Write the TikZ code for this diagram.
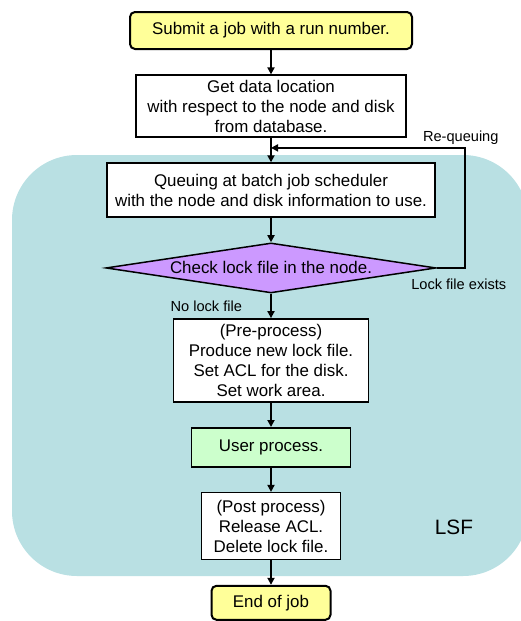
\documentclass[tikz,border=0pt]{standalone}
\usepackage{fontspec}
\setmainfont{Liberation Sans}
\usetikzlibrary{arrows.meta, positioning, shapes.geometric, backgrounds}

\definecolor{jobyellow}{RGB}{255,255,153}
\definecolor{checkpurple}{RGB}{204,153,255}
\definecolor{usergreen}{RGB}{204,255,204}
\definecolor{lsfteal}{RGB}{185,224,227}

\begin{document}
\begin{tikzpicture}[
    font=\fontsize{8.45}{10}\selectfont,
    node distance=12.2pt,
    stepbox/.style={draw, line width=0.75pt, fill=white, align=center, inner xsep=2pt, inner ysep=1.5pt},
    terminal/.style={stepbox, fill=jobyellow, line width=1pt, rounded corners=2.5pt},
    decision/.style={diamond, draw, line width=0.75pt, fill=checkpurple, inner sep=0pt, aspect=6.6},
    lbl/.style={font=\fontsize{7.3}{9}\selectfont, inner sep=1pt},
    arrow/.style={-{Triangle[length=3.5pt, width=3.5pt]}, line width=1pt}
]
  \useasboundingbox (0,0) rectangle (260pt,-310.5pt);

  % LSF area behind the job steps
  \fill[lsfteal, rounded corners=32.5pt] (6pt,-77.5pt) rectangle (264pt,-288pt);

  \node[terminal, minimum width=141pt, minimum height=18.5pt] (submit) at (135.5pt,-15.25pt) {Submit a job with a run number.};
  \node[stepbox, minimum width=135pt, minimum height=31pt, below=of submit] (info) {Get data location\\with respect to the node and disk\\from database.};
  \node[stepbox, minimum width=164pt, minimum height=27pt, below=of info] (queue) {Queuing at batch job scheduler\\with the node and disk information to use.};
  \node[decision, minimum width=165pt, minimum height=25pt, below=of queue] (check) {Check lock file in the node.};
  \node[stepbox, minimum width=97.5pt, minimum height=41.5pt, below=of check] (pre) {(Pre-process)\\Produce new lock file.\\Set ACL for the disk.\\Set work area.};
  \node[stepbox, fill=usergreen, minimum width=79.5pt, minimum height=19.5pt, below=of pre] (user) {User process.};
  \node[stepbox, minimum width=69.5pt, minimum height=33.5pt, below=of user] (post) {(Post process)\\Release ACL.\\Delete lock file.};
  \node[terminal, minimum width=59.5pt, minimum height=17pt, below=of post] (end) {End of job};

  \node[font=\fontsize{10.4}{12}\selectfont] (lsf) at (227pt,-263.5pt) {LSF};

  \draw[arrow] (submit) -- (info);
  \draw[arrow] (info) -- (queue);
  \draw[arrow] (queue) -- (check);
  \draw[arrow] (check) -- node[lbl, left=13pt] {No lock file} (pre);
  \draw[arrow] (pre) -- (user);
  \draw[arrow] (user) -- (post);
  \draw[arrow] (post) -- (end);

  % re-queuing loop
  \coordinate (rqin) at ([yshift=-5pt]info.south);
  \coordinate (rqdown) at ([xshift=14pt]check.east);
  \coordinate (rqturn) at (rqdown |- rqin);
  \draw[arrow] (check.east) -- (rqdown) -- (rqturn) -- (rqin);
  \node[lbl, above=0.5pt of rqturn, xshift=-2pt] (rqlabel) {Re-queuing};
  \node[lbl, below=4.5pt of rqdown, xshift=-3pt] (exists) {Lock file exists};
\end{tikzpicture}
\end{document}
